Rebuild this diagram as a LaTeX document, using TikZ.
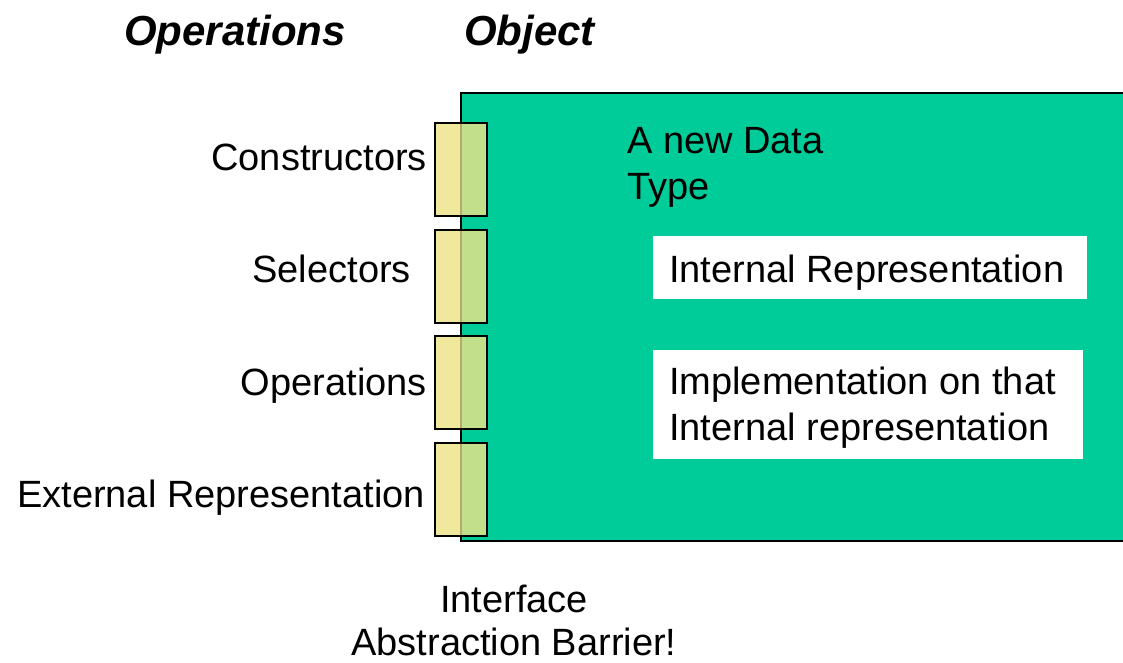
\documentclass[tikz,border=0pt]{standalone}
\usepackage{fontspec}
\setmainfont{Liberation Sans}
\definecolor{objgreen}{HTML}{00CC99}
\definecolor{tabyellow}{HTML}{F0E89C}
\definecolor{tabgreen}{HTML}{C2DF8C}
\definecolor{tanline}{HTML}{B8A872}
\begin{document}
\begin{tikzpicture}[x=1pt,y=-1pt,
  lbl/.style={font=\fontsize{38}{46}\selectfont, inner sep=0pt},
  ttl/.style={font=\fontsize{42}{50}\selectfont\bfseries\itshape, inner sep=0pt},
  tab/.style={draw=black, line width=2pt, minimum width=52pt, minimum height=93pt, inner sep=0pt,
    path picture={
      \fill[tabyellow] (path picture bounding box.south west) rectangle (path picture bounding box.north);
      \fill[tabgreen] (path picture bounding box.south) rectangle (path picture bounding box.north east);
      \draw[tanline, line width=2pt] (path picture bounding box.south) -- (path picture bounding box.north);
    }},
  wbox/.style={fill=white, inner sep=0pt}
]
\clip (0,0) rectangle (1123,662);
\fill[white] (0,0) rectangle (1123,662);
% main object box
\node[draw=black, line width=2pt, fill=objgreen, minimum width=679pt, minimum height=448pt, inner sep=0pt] (obj) at (800.5,317) {};
% titles
\node[ttl, anchor=base west] (topops) at (124,45) {Operations};
\node[ttl, anchor=base west] (topobj) at (464,45) {Object};
% tabs
\node[tab] (t1) at (461,169.5) {};
\node[tab] (t2) at (461,276) {};
\node[tab] (t3) at (461,382.5) {};
\node[tab] (t4) at (461,489) {};
% left labels
\node[lbl, anchor=base east] (l1) at (427,170) {Constructors};
\node[lbl, anchor=base east] (l2) at (411,282) {Selectors};
\node[lbl, anchor=base east] (l3) at (427,395) {Operations};
\node[lbl, anchor=base east] (l4) at (425,507) {External Representation};
% inside texts
\node[lbl, anchor=base west] (adt1) at (627,153) {A new Data};
\node[lbl, anchor=base west] (adt2) at (627,199) {Type};
\node[wbox, minimum width=434pt, minimum height=63pt] (irbox) at (870,267.5) {};
\node[lbl, anchor=base west] (irtext) at (669,282) {Internal Representation};
\node[wbox, minimum width=430pt, minimum height=109pt] (impbox) at (868,404.5) {};
\node[lbl, anchor=base west] (imp1) at (669,394) {Implementation on that};
\node[lbl, anchor=base west] (imp2) at (669,440) {Internal representation};
% bottom caption
\node[lbl, anchor=base] (cap1) at (514,612) {Interface};
\node[lbl, anchor=base] (cap2) at (514,655) {Abstraction Barrier!};
\end{tikzpicture}
\end{document}
